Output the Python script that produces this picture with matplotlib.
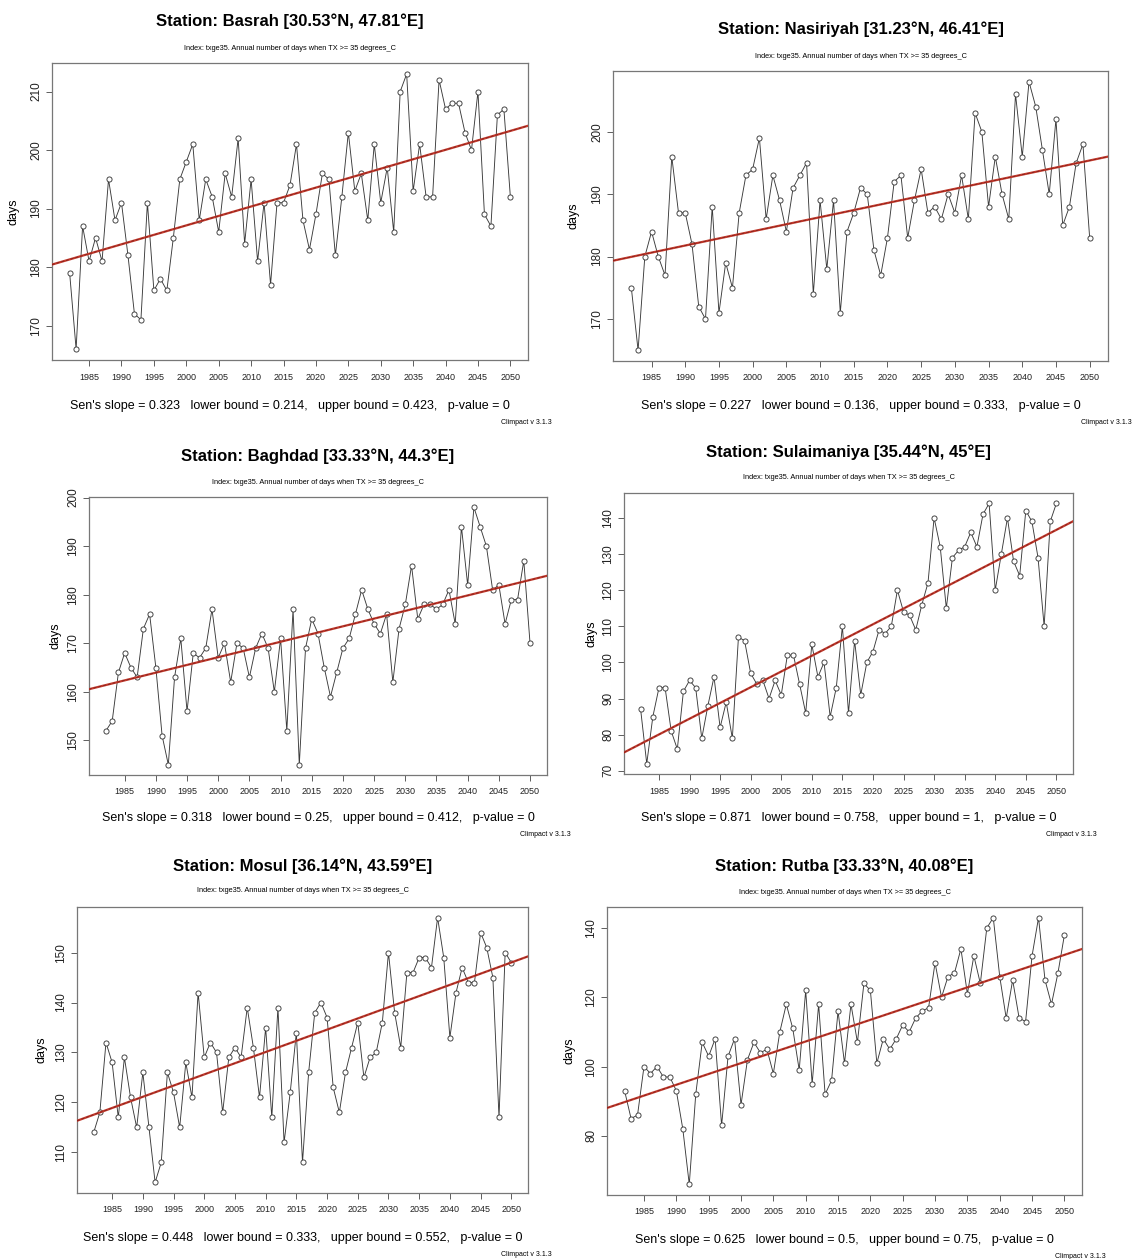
import matplotlib
matplotlib.use("Agg")
import matplotlib.pyplot as plt
from matplotlib.ticker import MultipleLocator
import numpy as np

plt.rcParams['font.family'] = ['Liberation Sans', 'DejaVu Sans']

# years 1982-2050
years = list(range(1982, 2051))

basrah = [179, 166, 187, 181, 185, 181, 195, 188, 191, 182, 172, 171, 191, 176, 178, 176, 185,
          195, 198, 201, 188, 195, 192, 186, 196, 192, 202, 184, 195, 181, 191, 177, 191, 191,
          194, 201, 188, 183, 189, 196, 195, 182, 192, 203, 193, 196, 188, 201, 191, 197, 186,
          210, 213, 193, 201, 192, 192, 212, 207, 208, 208, 203, 200, 210, 189, 187, 206, 207, 192]
nasiriyah = [175, 165, 180, 184, 180, 177, 196, 187, 187, 182, 172, 170, 188, 171, 179, 175, 187,
             193, 194, 199, 186, 193, 189, 184, 191, 193, 195, 174, 189, 178, 189, 171, 184, 187,
             191, 190, 181, 177, 183, 192, 193, 183, 189, 194, 187, 188, 186, 190, 187, 193, 186,
             203, 200, 188, 196, 190, 186, 206, 196, 208, 204, 197, 190, 202, 185, 188, 195, 198, 183]
baghdad = [152, 154, 164, 168, 165, 163, 173, 176, 165, 151, 145, 163, 171, 156, 168, 167, 169,
           177, 167, 170, 162, 170, 169, 163, 169, 172, 169, 160, 171, 152, 177, 145, 169, 175,
           172, 165, 159, 164, 169, 171, 176, 181, 177, 174, 172, 176, 162, 173, 178, 186, 175,
           178, 178, 177, 178, 181, 174, 194, 182, 198, 194, 190, 181, 182, 174, 179, 179, 187, 170]
sulaimaniya = [87, 72, 85, 93, 93, 81, 76, 92, 95, 93, 79, 88, 96, 82, 89, 79, 107, 106, 97, 94,
               95, 90, 95, 91, 102, 102, 94, 86, 105, 96, 100, 85, 93, 110, 86, 106, 91, 100, 103,
               109, 108, 110, 120, 114, 113, 109, 116, 122, 140, 132, 115, 129, 131, 132, 136, 132,
               141, 144, 120, 130, 140, 128, 124, 142, 139, 129, 110, 139, 144]
mosul = [114, 118, 132, 128, 117, 129, 121, 115, 126, 115, 104, 108, 126, 122, 115, 128, 121, 142,
         129, 132, 130, 118, 129, 131, 129, 139, 131, 121, 135, 117, 139, 112, 122, 134, 108, 126,
         138, 140, 137, 123, 118, 126, 131, 136, 125, 129, 130, 136, 150, 138, 131, 146, 146, 149,
         149, 147, 157, 149, 133, 142, 147, 144, 144, 154, 151, 145, 117, 150, 148]
rutba = [93, 85, 86, 100, 98, 100, 97, 97, 93, 82, 66, 92, 107, 103, 108, 83, 103, 108, 89, 102,
         107, 104, 105, 98, 110, 118, 111, 99, 122, 95, 118, 92, 96, 116, 101, 118, 107, 124, 122,
         101, 108, 105, 108, 112, 110, 114, 116, 117, 130, 120, 126, 127, 134, 121, 132, 124, 140,
         143, 126, 114, 125, 114, 113, 132, 143, 125, 118, 127, 138]

stations = ["Basrah [30.53°N, 47.81°E]", "Nasiriyah [31.23°N, 46.41°E]",
            "Baghdad [33.33°N, 44.3°E]", "Sulaimaniya [35.44°N, 45°E]",
            "Mosul [36.14°N, 43.59°E]", "Rutba [33.33°N, 40.08°E]"]
series = [basrah, nasiriyah, baghdad, sulaimaniya, mosul, rutba]
slopes = [0.323, 0.227, 0.318, 0.871, 0.448, 0.625]
lower = ["0.214", "0.136", "0.25", "0.758", "0.333", "0.5"]
upper = ["0.423", "0.333", "0.412", "1", "0.552", "0.75"]
ystep = [10, 10, 10, 10, 10, 20]

# pixel boxes of each plot region: left, top, right, bottom
boxes = [(52, 63, 528, 360), (613, 71, 1108, 361), (89, 497, 547, 775),
         (624, 493, 1073, 774), (77, 907, 528, 1193), (607, 907, 1082, 1195)]
# title y, subtitle y, bottom text y, climpact y, ylabel x
tpos = [(21, 48, 406, 423, 14), (29, 56, 406, 423, 574), (456, 482, 818, 834, 55),
        (452, 478, 818, 834, 592), (866, 891, 1238, 1254, 42), (866, 893, 1240, 1256, 570)]

W, H = 1138, 1259
fig = plt.figure(figsize=(W / 100, H / 100), dpi=100)

def fx(px):
    return px / W

def fy(py):
    return 1 - py / H

x = np.array(years)
for i in range(6):
    l, t, r, b = boxes[i]
    ty, sy, by, cy, lx = tpos[i]
    y = np.array(series[i])
    ax = fig.add_axes([fx(l), fy(b), (r - l) / W, (b - t) / H])
    ax.plot(x, y, color='#3a3a3a', lw=0.65, marker='o', ms=3.7, mfc='white',
            mec='#3a3a3a', mew=0.65)
    ax.margins(x=0.04, y=0.04)
    ax.autoscale_view()
    ylims = ax.get_ylim()
    # Sen's slope line, intercept from median of residuals
    icpt = np.median(y - slopes[i] * x)
    xm = 2016
    ax.axline((xm, icpt + slopes[i] * xm), slope=slopes[i], color='#c0392b', lw=1.6, zorder=3)
    ax.axline((xm, icpt + slopes[i] * xm), slope=slopes[i], color='#7a1a1a', lw=0.5,
              ls=(0, (4, 3)), zorder=3)
    ax.set_xlim(1982 - 2.72, 2050 + 2.72)
    ax.set_ylim(ylims)
    ax.set_xticks(np.arange(1985, 2051, 5))
    ax.yaxis.set_major_locator(MultipleLocator(ystep[i]))
    ax.tick_params(axis='x', labelsize=6.5, length=4, width=0.6, color='#444444', pad=5,
                   labelcolor='#222222')
    ax.tick_params(axis='y', labelsize=8.5, length=4, width=0.6, color='#444444', pad=3,
                   labelrotation=90, labelcolor='#222222')
    for lab in ax.get_yticklabels():
        lab.set_va('center')
    for sp in ax.spines.values():
        sp.set_color('#777777')
        sp.set_linewidth(0.9)
    cx = (l + r) / 2
    fig.text(fx(cx), fy(ty), "Station: " + stations[i], ha='center', va='center',
             fontsize=12, fontweight='bold')
    fig.text(fx(cx), fy(sy), "Index: txge35. Annual number of days when TX >= 35 degrees_C",
             ha='center', va='center', fontsize=5.3)
    fig.text(fx(cx), fy(by), f"Sen's slope = {slopes[i]}   lower bound = {lower[i]},   "
             f"upper bound = {upper[i]},   p-value = 0", ha='center', va='center', fontsize=9)
    fig.text(fx(r - 2), fy(cy), "Climpact v 3.1.3", ha='center', va='center', fontsize=5)
    fig.text(fx(lx), fy((t + b) / 2), "days", ha='center', va='center', fontsize=9,
             rotation=90)

fig.savefig("out.png", dpi=100)
